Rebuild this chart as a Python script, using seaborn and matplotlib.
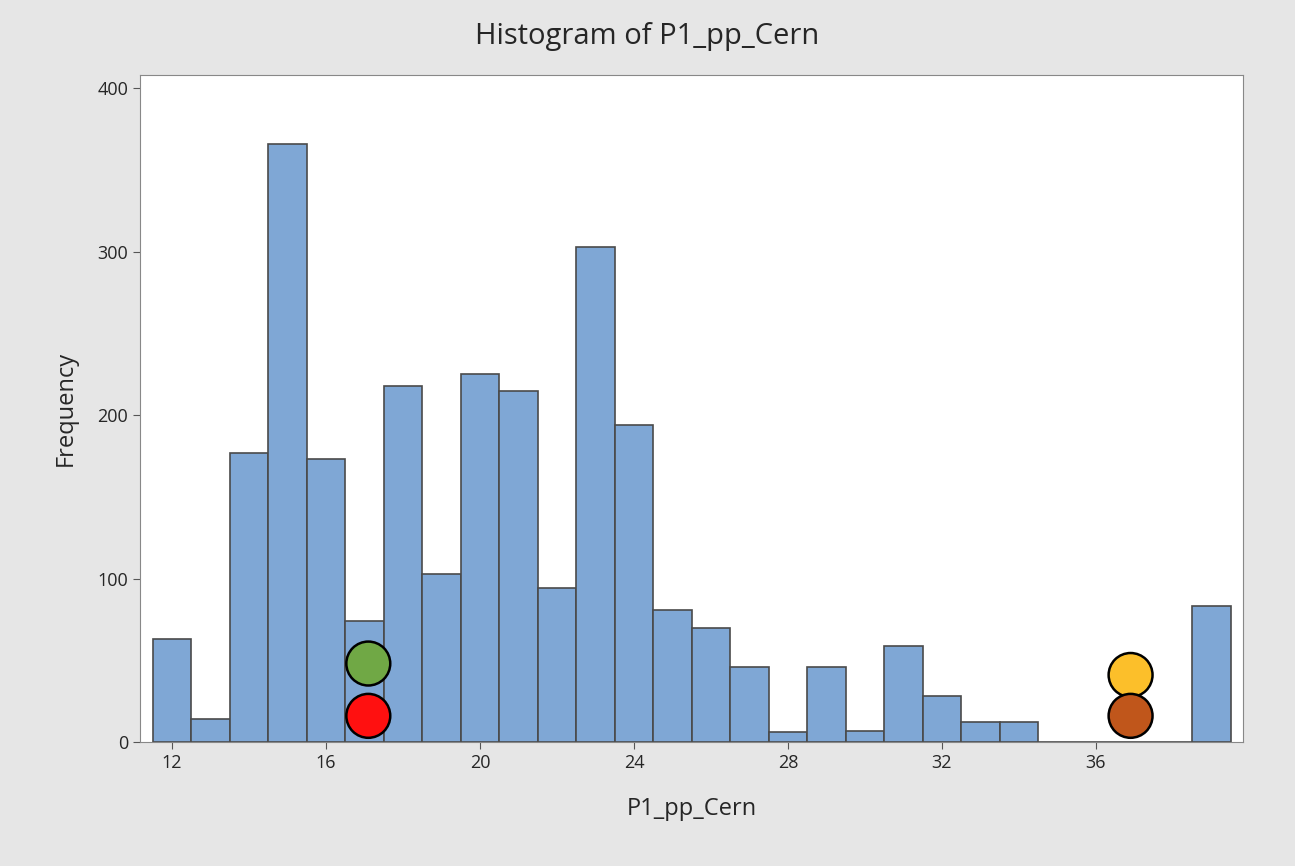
import numpy as np
import pandas as pd
import seaborn as sns
import matplotlib.pyplot as plt

# bin centres (width 1) and their frequencies
bin_centres = list(range(12, 40))
frequencies = [63, 14, 177, 366, 173, 74, 218, 103, 225, 215, 94, 303, 194, 81,
               70, 46, 6, 46, 7, 59, 28, 12, 12, 0, 0, 0, 0, 83]

# coloured markers drawn over the bars
marker_x = [17.1, 17.1, 36.9, 36.9]
marker_y = [48, 16, 41, 16]
marker_colors = ['#70a845', '#ff1010', '#fcbf2a', '#c0561b']

df = pd.DataFrame({'P1_pp_Cern': bin_centres, 'count': frequencies})

sns.set_style('white')
plt.rcParams['font.family'] = ['Open Sans', 'DejaVu Sans']

fig = plt.figure(figsize=(12.95, 8.66), dpi=100, facecolor='#e6e6e6')
ax = fig.add_axes([140 / 1295, 1 - 742 / 866, 1103 / 1295, 667 / 866])

sns.histplot(data=df, x='P1_pp_Cern', weights='count', discrete=True,
             color='#7fa7d5', edgecolor='#4a4a4a', linewidth=1.2, alpha=1, ax=ax)

ax.scatter(marker_x, marker_y, s=1000, c=marker_colors, edgecolors='black',
           linewidths=1.8, zorder=5)

ax.set_xlim(11.17, 39.82)
ax.set_ylim(0, 408)
ax.set_xticks(range(12, 40, 4))
ax.set_yticks(range(0, 401, 100))
ax.tick_params(axis='both', labelsize=13, length=5, direction='out', color='#555555',
               bottom=True, left=True)
for s in ax.spines.values():
    s.set_color('#888888')
ax.set_xlabel('P1_pp_Cern', fontsize=17, labelpad=18)
ax.set_ylabel('Frequency', fontsize=17, labelpad=14)
fig.suptitle('Histogram of P1_pp_Cern', fontsize=21, y=0.975)

plt.savefig('out.png', dpi=100, facecolor=fig.get_facecolor())
